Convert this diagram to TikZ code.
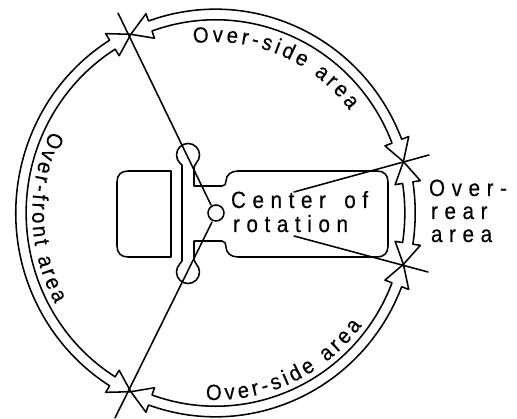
\documentclass[tikz,border=0pt]{standalone}
\usepackage{fontspec}
\usetikzlibrary{decorations.text}
\newfontfamily\lblfont[FakeStretch=0.88,LetterSpace=28,FakeBold=0.3]{Liberation Sans}
\newfontfamily\arcfont[FakeStretch=0.92,FakeBold=0.3]{Liberation Sans}
\tikzset{
  ink/.style={line width=1.55pt,line join=round,line cap=round},
  lbl/.style={font=\lblfont\fontsize{23.5}{23.5}\selectfont,anchor=base west,inner sep=0pt,outer sep=0pt},
  arctext/.style={decorate,decoration={text along path,text align=fit to path,text={#1}}}
}
\newcommand\arcs{|\arcfont\fontsize{22}{22}\selectfont|}
\newcommand\bandarrow[2]{%
  \draw[ink] (#1:198.5) -- ({#1+6.2}:211.5) -- ({#1+6.2}:203.8)
    arc[start angle={#1+6.2},end angle={#2-6.2},radius=203.8]
    -- ({#2-6.2}:211.5) -- (#2:198.5) -- ({#2-6.2}:185.5) -- ({#2-6.2}:193.2)
    arc[start angle={#2-6.2},end angle={#1+6.2},radius=193.2]
    -- ({#1+6.2}:185.5) -- cycle;}
\begin{document}
\begin{tikzpicture}[x=1pt,y=1pt,yscale=-1]
\useasboundingbox[fill=white] (0,0) rectangle (517,419);
% vehicle
\draw[ink] (171,171) -- (128,171) .. controls (121,171) and (117,175) .. (117,182)
  -- (117,246) .. controls (117,253) and (121,257) .. (128,257) -- (171,257) -- cycle;
\draw[ink] (182,261) -- (182,165) -- (179.9,163.1)
  arc[start angle=135,end angle=405,radius=11.5]
  -- (194,167) -- (194,186) -- (222,186)
  .. controls (225,186) and (226,184) .. (226,181)
  .. controls (226,175) and (231,171) .. (238,171) -- (377,171)
  .. controls (384,171) and (388,175) .. (388,182) -- (388,246)
  .. controls (388,253) and (384,257) .. (377,257) -- (238,257)
  .. controls (231,257) and (226,253) .. (226,247)
  .. controls (226,244) and (225,241) .. (222,241) -- (194,241) -- (194,260)
  -- (196.1,263.9)
  arc[start angle=-45,end angle=225,radius=11.5]
  -- (182,261);
\node[draw,circle,line width=1.55pt,minimum size=16pt,inner sep=0pt] (pivot) at (216,213) {};
% sector lines
\coordinate (tipA) at (118,13);
\coordinate (endA) at (211,205);
\coordinate (tipB) at (115,418);
\coordinate (endB) at (212,222);
\coordinate (tipC) at (429,155);
\coordinate (endC) at (294,192);
\coordinate (tipD) at (428,272);
\coordinate (endD) at (294,236);
\draw[ink] (tipA) -- (endA);
\draw[ink] (tipB) -- (endB);
\draw[ink] (tipC) -- (endC);
\draw[ink] (tipD) -- (endD);
% ring of arrows
\begin{scope}[shift={(215.5,213)},yscale=-1,xscale=.98]
  \bandarrow{15}{115.8}
  \bandarrow{115.8}{244.2}
  \bandarrow{-115.8}{-15}
  \bandarrow{-15}{15}
  \path[arctext={\arcs Over-side area}] (97.5:171) arc[start angle=97.5,end angle=37,radius=171];
  \path[arctext={\arcs Over-side area}] (-93:187) arc[start angle=-93,end angle=-37,radius=187];
  \path[arctext={\arcs Over-front area}] (154:187) arc[start angle=154,end angle=209,radius=187];
\end{scope}
% labels
\node[lbl] (c1) at (231,208) {Center\hspace{6pt} of};
\node[lbl] (c2) at (233,232) {rotation};
\node[lbl] (r1) at (429,196) {Over-};
\node[lbl] (r2) at (431,219) {rear};
\node[lbl] (r3) at (431,242) {area};
\end{tikzpicture}
\end{document}
